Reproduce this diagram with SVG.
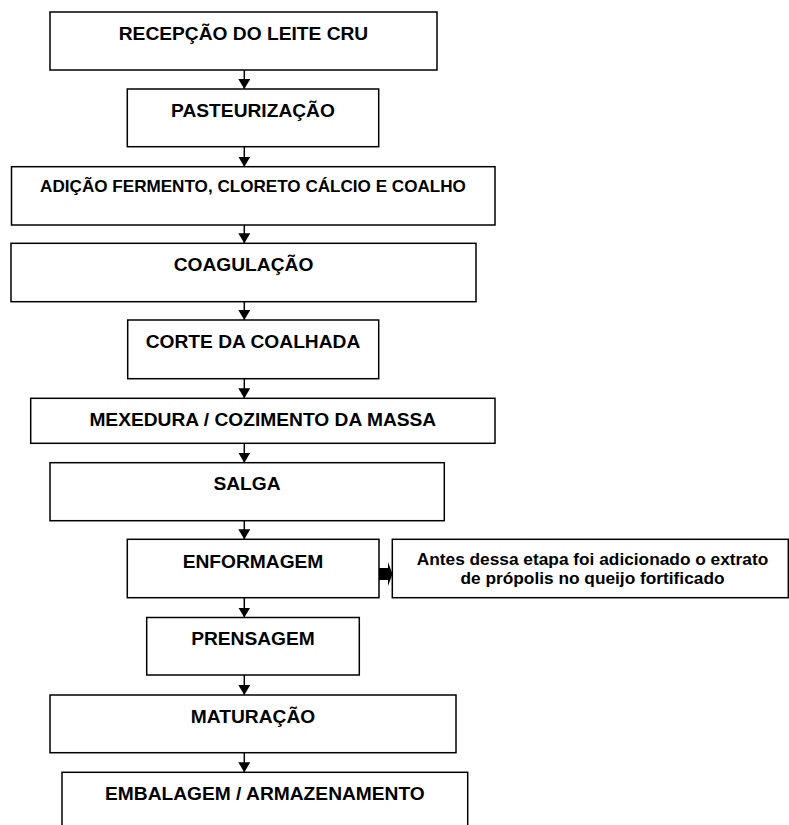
<svg xmlns="http://www.w3.org/2000/svg" width="789" height="825" viewBox="0 0 789 825">
<style>
.box{fill:#fff;stroke:#000;stroke-width:1.5}
.lbl{font-family:"Liberation Sans",Arial,sans-serif;font-weight:bold;font-size:19.2px;fill:#000;text-anchor:middle}
.sm{font-size:17.1px}
.note{font-family:"Liberation Sans",Arial,sans-serif;font-weight:bold;font-size:17.3px;fill:#000;text-anchor:middle}
.con{stroke:#000;stroke-width:1.5;fill:none;marker-end:url(#ah)}
</style>
<defs>
<marker id="ah" markerUnits="userSpaceOnUse" markerWidth="10" markerHeight="12" viewBox="0 0 10 12" refX="10" refY="6" orient="auto">
<path d="M0,0 L10,6 L0,12 z" fill="#000"/>
</marker>
</defs>
<rect width="789" height="825" fill="#fff"/>
<g id="connectors">
<line class="con" x1="244.3" y1="70" x2="244.3" y2="89"/>
<line class="con" x1="244.3" y1="146.7" x2="244.3" y2="166.7"/>
<line class="con" x1="244.3" y1="225" x2="244.3" y2="243.3"/>
<line class="con" x1="244.3" y1="301.7" x2="244.3" y2="320"/>
<line class="con" x1="244.3" y1="378.7" x2="244.3" y2="398.3"/>
<line class="con" x1="244.3" y1="443.3" x2="244.3" y2="462.7"/>
<line class="con" x1="244.3" y1="520.7" x2="244.3" y2="539.3"/>
<line class="con" x1="244.3" y1="597.7" x2="244.3" y2="617.5"/>
<line class="con" x1="244.3" y1="675" x2="244.3" y2="695"/>
<line class="con" x1="244.3" y1="752.7" x2="244.3" y2="772.3"/>
<polygon points="378.5,568 388,568 388,562 392.5,574 388,586 388,580 378.5,580" fill="#000"/>
</g>
<g id="n1"><rect class="box" x="50" y="12" width="387" height="58"/><text class="lbl" x="243.5" y="40">RECEPÇÃO DO LEITE CRU</text></g>
<g id="n2"><rect class="box" x="127.3" y="89" width="251.4" height="57.7"/><text class="lbl" x="253" y="117">PASTEURIZAÇÃO</text></g>
<g id="n3"><rect class="box" x="11.5" y="166.7" width="483.5" height="58.3"/><text class="lbl sm" x="253" y="192">ADIÇÃO FERMENTO, CLORETO CÁLCIO E COALHO</text></g>
<g id="n4"><rect class="box" x="11" y="243.3" width="465" height="58.4"/><text class="lbl" x="243.5" y="271">COAGULAÇÃO</text></g>
<g id="n5"><rect class="box" x="127.7" y="320" width="251" height="58.7"/><text class="lbl" x="253" y="348">CORTE DA COALHADA</text></g>
<g id="n6"><rect class="box" x="30.7" y="398.3" width="464.3" height="45"/><text class="lbl" x="262.8" y="426">MEXEDURA / COZIMENTO DA MASSA</text></g>
<g id="n7"><rect class="box" x="50" y="462.7" width="394.3" height="58"/><text class="lbl" x="247" y="490">SALGA</text></g>
<g id="n8"><rect class="box" x="127.3" y="539.3" width="251.7" height="58.4"/><text class="lbl" x="253" y="567.7">ENFORMAGEM</text></g>
<g id="n8note"><rect class="box" x="392.3" y="539.3" width="396" height="58.4"/><text class="note" x="592.5" y="565">Antes dessa etapa foi adicionado o extrato</text><text class="note" x="592.5" y="584">de própolis no queijo fortificado</text></g>
<g id="n9"><rect class="box" x="146.7" y="617.5" width="212.6" height="57.5"/><text class="lbl" x="253" y="645">PRENSAGEM</text></g>
<g id="n10"><rect class="box" x="50" y="695" width="406" height="57.7"/><text class="lbl" x="253" y="722.5">MATURAÇÃO</text></g>
<g id="n11"><rect class="box" x="62" y="772.3" width="405.7" height="70"/><text class="lbl" x="264.9" y="800">EMBALAGEM / ARMAZENAMENTO</text></g>
</svg>
